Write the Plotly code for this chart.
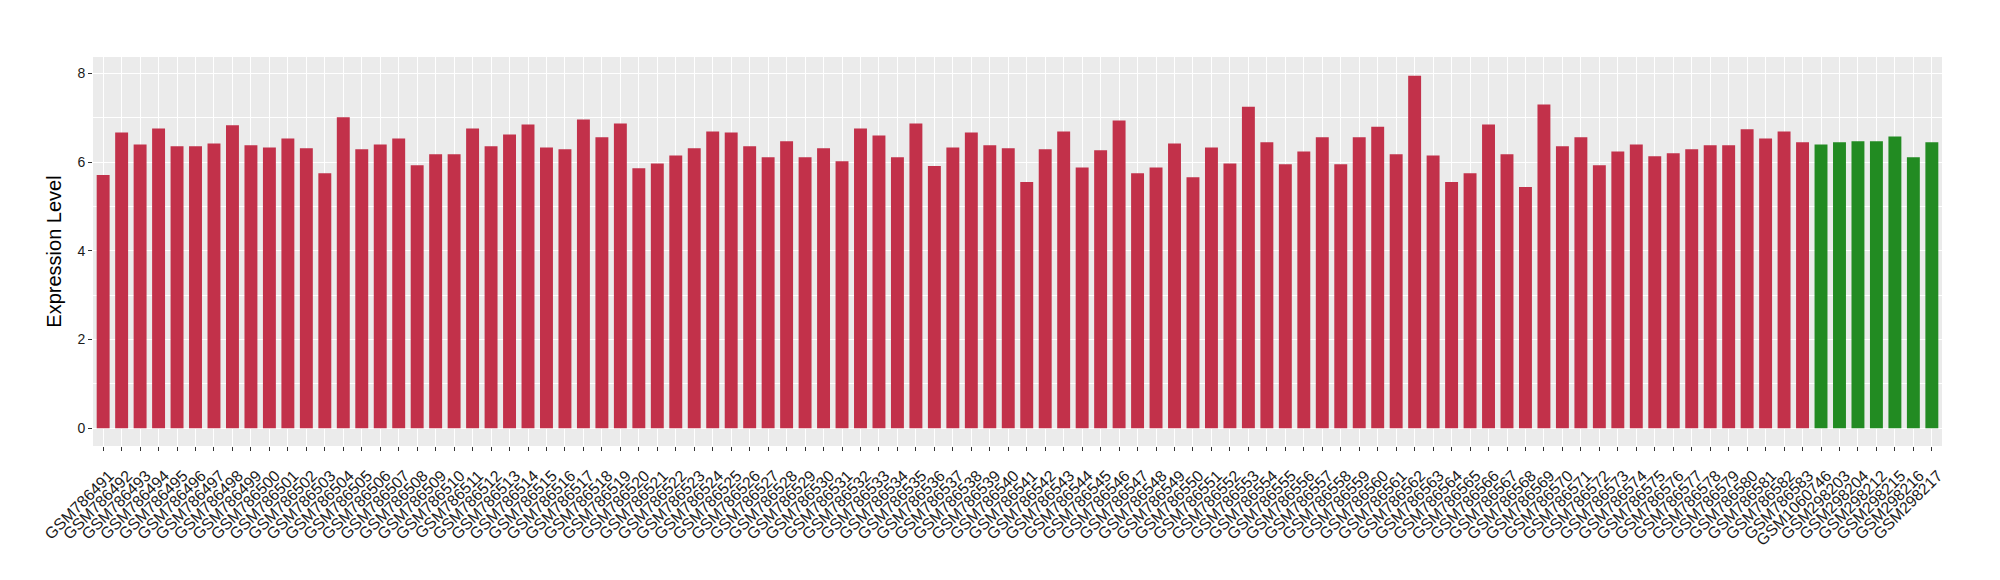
import plotly.graph_objects as go

samples = [f"GSM{n}" for n in range(786491, 786584)] + [
    "GSM1060746", "GSM298203", "GSM298204", "GSM298212",
    "GSM298215", "GSM298216", "GSM298217"]

values = [
    5.71, 6.67, 6.40, 6.76, 6.36, 6.36, 6.42, 6.83, 6.38, 6.33,
    6.53, 6.31, 5.75, 7.01, 6.29, 6.40, 6.53, 5.93, 6.18, 6.18,
    6.76, 6.36, 6.62, 6.85, 6.33, 6.29, 6.96, 6.56, 6.87, 5.86,
    5.97, 6.15, 6.31, 6.69, 6.67, 6.36, 6.11, 6.47, 6.11, 6.31,
    6.02, 6.76, 6.60, 6.11, 6.87, 5.91, 6.33, 6.67, 6.38, 6.31,
    5.55, 6.29, 6.69, 5.88, 6.27, 6.94, 5.75, 5.88, 6.42, 5.66,
    6.33, 5.97, 7.25, 6.45, 5.95, 6.24, 6.56, 5.95, 6.56, 6.80,
    6.18, 7.95, 6.15, 5.55, 5.75, 6.85, 6.18, 5.44, 7.30, 6.36,
    6.56, 5.93, 6.24, 6.40, 6.13, 6.20, 6.29, 6.38, 6.38, 6.74,
    6.53, 6.69, 6.45,
    6.40, 6.45, 6.47, 6.47, 6.58, 6.11, 6.45,
]

groups = ["tumor"] * 93 + ["normal"] * 7
group_colors = {"tumor": "#C2314A", "normal": "#228B22"}
colors = [group_colors[g] for g in groups]

fig = go.Figure(go.Bar(
    x=samples, y=values, marker=dict(color=colors, line=dict(width=0)),
    width=0.7, showlegend=False,
))

font_family = "Liberation Sans, Arial, sans-serif"
fig.update_layout(
    width=2000, height=580,
    margin=dict(l=85, r=66, t=49, b=142),
    paper_bgcolor="white", plot_bgcolor="#EBEBEB",
    font=dict(family=font_family, color="#1a1a1a"),
    xaxis=dict(
        type="category", range=[-0.55, 99.55], automargin=False,
        tickmode="array", tickvals=samples, ticktext=samples,
        tickangle=-45, tickfont=dict(size=16, color="#1a1a1a"),
        ticklabelstandoff=9, ticklabelshift=6,
        showgrid=True, gridcolor="white", gridwidth=1.1,
        ticks="outside", ticklen=4, tickcolor="#333333",
        zeroline=False, showline=False,
    ),
    yaxis=dict(
        range=[-0.4, 8.37], tickvals=[0, 2, 4, 6, 8], automargin=False,
        tickfont=dict(size=14, color="#1a1a1a"),
        showgrid=True, gridcolor="white", gridwidth=1.1,
        minor=dict(tickvals=[1, 3, 5, 7], showgrid=True, gridcolor="white", gridwidth=0.5),
        ticks="outside", ticklen=4, tickcolor="#333333",
        zeroline=False, showline=False,
        title=dict(text="Expression Level", font=dict(size=20, color="black"), standoff=10),
    ),
)

fig.write_html("out.html")
